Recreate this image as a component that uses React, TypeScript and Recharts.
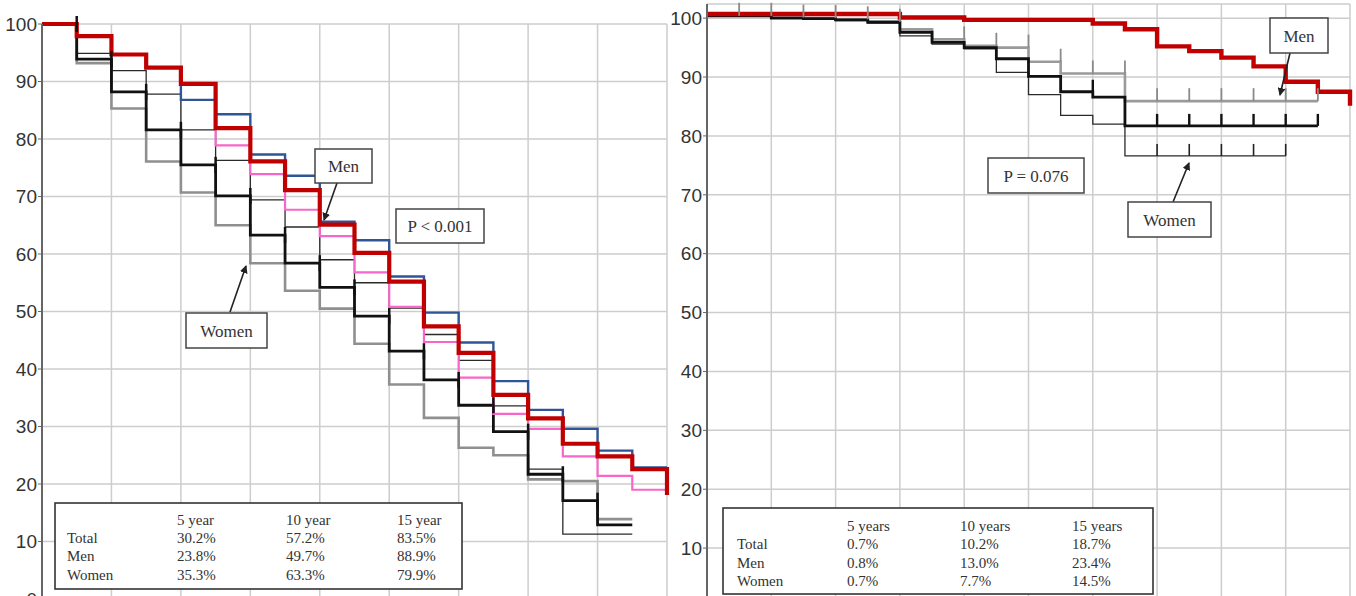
import React from 'react'
import { ComposedChart, Line, Scatter, XAxis, YAxis, CartesianGrid } from 'recharts'

// left panel: yearly steps, 0..18 years
const leftYears = [0, 1, 2, 3, 4, 5, 6, 7, 8, 9, 10, 11, 12, 13, 14, 15, 16, 17, 18]
const leftTotal = [100, 97.9, 94.7, 92.4, 89.6, 81.9, 76.1, 71.1, 65.1, 60.2, 55.2, 47.4, 42.8, 35.5, 31.4, 27.0, 24.8, 22.6, 18.1]
const leftMen = [100, 97.9, 94.7, 92.4, 86.8, 84.3, 77.3, 73.6, 65.6, 62.4, 56.1, 49.8, 44.6, 37.9, 32.9, 29.6, 25.8, 22.9, 22.9]
const leftWomen = [100, 97.9, 94.7, 92.4, 89.6, 78.9, 73.9, 67.7, 63.1, 56.8, 50.8, 44.7, 38.5, 32.2, 29.6, 24.8, 21.4, 19.0, 19.0]
const leftRefThin = [100, 94.9, 91.9, 87.8, 81.6, 76.3, 69.4, 64.7, 59.0, 55.0, 50.6, 46.0, 41.5, 33.6, 22.6, 11.3, 11.3, 11.3]
const leftRefThick = [100, 93.9, 88.2, 81.6, 75.5, 70.1, 63.3, 58.4, 54.2, 49.2, 43.1, 38.1, 33.7, 29.1, 21.7, 17.1, 12.9, 12.9]
const leftRefGray = [100, 93.2, 85.3, 76.1, 70.7, 65.0, 58.4, 53.6, 50.5, 44.4, 37.3, 31.5, 26.3, 25.0, 20.8, 20.5, 13.9, 13.9]
const leftCensor = [1, 2, 3, 4, 5, 6, 7, 8, 9, 10, 11, 12, 13, 14, 15, 16]

// right panel: 0..20 years
const rightYears = [0, 1, 2, 3, 4, 5, 6, 7, 8, 9, 10, 11, 12, 13, 14, 15, 16, 17, 18, 19, 20]
const rightTotal = [100.7, 100.7, 100.7, 100.7, 100.7, 100.7, 100.1, 100.1, 99.7, 99.7, 99.7, 99.7, 99.1, 98.1, 95.2, 94.4, 93.3, 91.8, 89.2, 87.5, 85.1]
const rightMen = [100.4, 100.4, 100.1, 100.0, 99.8, 99.4, 98.1, 96.4, 95.3, 95.0, 92.6, 90.6, 90.6, 85.9, 85.9, 85.9, 85.9, 85.9, 85.9, 85.9]
const rightAll = [100.4, 100.4, 100.0, 99.9, 99.7, 99.3, 97.6, 95.9, 95.0, 93.1, 90.1, 87.5, 86.6, 81.7, 81.7, 81.7, 81.7, 81.7, 81.7, 81.7]
const rightWomen = [100.4, 100.4, 100.0, 99.9, 99.6, 99.2, 97.0, 95.6, 94.8, 90.8, 87.0, 83.5, 82.0, 76.6, 76.6, 76.6, 76.6, 76.6, 76.6]
const rightMenCensor = [1, 2, 3, 4, 5, 6, 8, 9, 10, 11, 12, 13, 14, 15, 16, 17, 18, 19]
const rightAllCensor = [12, 14, 15, 16, 17, 18, 19]
const rightWomenCensor = [14, 15, 16, 17, 18]

const leftYTicks = [0, 10, 20, 30, 40, 50, 60, 70, 80, 90, 100]
const rightYTicks = [10, 20, 30, 40, 50, 60, 70, 80, 90, 100]
const leftXTicks = [0, 2, 4, 6, 8, 10, 12, 14, 16, 18]
const rightXTicks = [0, 2, 4, 6, 8, 10, 12, 14, 16, 18, 20]

const leftTable = [
  ['', '5 year', '10 year', '15 year'],
  ['Total', '30.2%', '57.2%', '83.5%'],
  ['Men', '23.8%', '49.7%', '88.9%'],
  ['Women', '35.3%', '63.3%', '79.9%'],
]
const rightTable = [
  ['', '5 years', '10 years', '15 years'],
  ['Total', '0.7%', '10.2%', '18.7%'],
  ['Men', '0.8%', '13.0%', '23.4%'],
  ['Women', '0.7%', '7.7%', '14.5%'],
]

const toRows = (years: number[], vals: number[]) => vals.map((v, i) => ({ t: years[i], v }))
const censorRows = (years: number[], vals: number[], marks: number[]) =>
  marks.map(m => ({ t: m, v: vals[years.indexOf(m) - 1] }))

const tickMark = (up: number, down: number, color: string, w: number) => (p: any) =>
  <line x1={p.cx} x2={p.cx} y1={p.cy - up} y2={p.cy + down} stroke={color} strokeWidth={w} />

const axisTick = { fill: '#333', fontSize: 19, fontFamily: 'Liberation Sans, Arial' }
const serif = 'Liberation Serif, Times New Roman'

const step = (data: any[], color: string, w: number) => (
  <Line data={data} dataKey="v" type="stepAfter" stroke={color} strokeWidth={w} dot={false}
    activeDot={false} isAnimationActive={false} />
)

const TextBox = ({ x, y, w, h, text }: any) => (
  <g>
    <rect x={x} y={y} width={w} height={h} fill="#fff" stroke="#444" strokeWidth={1.5} />
    <text x={x + w / 2} y={y + h / 2 + 6} textAnchor="middle" fontFamily={serif} fontSize={17} fill="#333">{text}</text>
  </g>
)

const Arrow = ({ x1, y1, x2, y2 }: any) => (
  <line x1={x1} y1={y1} x2={x2} y2={y2} stroke="#222" strokeWidth={1.6} markerEnd="url(#ah)" />
)

const Table = ({ x, y, w, h, rows, cols, rowY }: any) => (
  <g>
    <rect x={x} y={y} width={w} height={h} fill="#fff" stroke="#333" strokeWidth={1.6} />
    {rows.map((r: string[], i: number) => r.map((c, j) => (
      <text key={i + '-' + j} x={cols[j]} y={rowY[i]} fontFamily={serif} fontSize={15} fill="#333">{c}</text>
    )))}
  </g>
)

const App = () => {
  return (
    <div style={{ position: 'absolute', left: 0, top: 0, width: 1356, height: 596, overflow: 'hidden', background: '#fff' }}>
      <div style={{ position: 'absolute', left: 0, top: 0 }}>
        <ComposedChart width={680} height={620} margin={{ top: 24, right: 13, bottom: 21, left: 0 }}>
          <CartesianGrid stroke="#cdcdcd" strokeWidth={1.5} />
          <XAxis type="number" dataKey="t" domain={[0, 18]} ticks={leftXTicks} hide />
          <YAxis type="number" domain={[0, 100]} ticks={leftYTicks} width={42} tick={axisTick}
            axisLine={{ stroke: '#666', strokeWidth: 2 }} tickLine={{ stroke: '#666' }} tickSize={4} tickMargin={1} />
          {step(toRows(leftYears, leftRefGray), '#8f8f8f', 2.6)}
          {step(toRows(leftYears, leftRefThin), '#2a2a2a', 1.3)}
          {step(toRows(leftYears, leftRefThick), '#111', 2.8)}
          <Scatter data={censorRows(leftYears, leftRefThick, leftCensor)} dataKey="v" isAnimationActive={false}
            shape={tickMark(8, 8, '#111', 2.5)} />
          {step(toRows(leftYears, leftWomen), '#f766c8', 2.2)}
          {step(toRows(leftYears, leftMen), '#2f5597', 2.4)}
          {step(toRows(leftYears, leftTotal), '#c00000', 4.2)}
        </ComposedChart>
      </div>
      <div style={{ position: 'absolute', left: 668, top: 0 }}>
        <ComposedChart width={688} height={627} margin={{ top: 4, right: 6, bottom: 20, left: 0 }}>
          <CartesianGrid stroke="#cdcdcd" strokeWidth={1.5} />
          <XAxis type="number" dataKey="t" domain={[0, 20]} ticks={rightXTicks} hide />
          <YAxis type="number" domain={[0, 102.4]} ticks={rightYTicks} width={39} tick={axisTick}
            axisLine={{ stroke: '#666', strokeWidth: 2 }} tickLine={{ stroke: '#666' }} tickSize={4} tickMargin={1} />
          {step(toRows(rightYears, rightMen), '#9a9a9a', 2.6)}
          {step(toRows(rightYears, rightWomen), '#2a2a2a', 1.3)}
          {step(toRows(rightYears, rightAll), '#111', 2.8)}
          <Scatter data={censorRows(rightYears, rightMen, rightMenCensor)} dataKey="v" isAnimationActive={false}
            shape={tickMark(13, 0, '#8a8a8a', 1.8)} />
          <Scatter data={censorRows(rightYears, rightAll, rightAllCensor)} dataKey="v" isAnimationActive={false}
            shape={tickMark(12, 0, '#111', 2.4)} />
          <Scatter data={censorRows(rightYears, rightWomen, rightWomenCensor)} dataKey="v" isAnimationActive={false}
            shape={tickMark(12, 0, '#222', 1.6)} />
          {step(toRows(rightYears, rightTotal), '#c00000', 4.4)}
        </ComposedChart>
      </div>
      <svg width={1356} height={596} style={{ position: 'absolute', left: 0, top: 0, pointerEvents: 'none' }}>
        <defs>
          <marker id="ah" markerWidth="8" markerHeight="8" refX="7" refY="4" orient="auto" markerUnits="userSpaceOnUse">
            <path d="M0,0 L8,4 L0,8 z" fill="#222" />
          </marker>
        </defs>
        <Arrow x1={337} y1={183} x2={324} y2={220} />
        <TextBox x={315} y={149} w={57} h={34} text="Men" />
        <TextBox x={396} y={209} w={88} h={34} text="P < 0.001" />
        <Arrow x1={230} y1={312} x2={246} y2={266} />
        <TextBox x={186} y={313} w={81} h={35} text="Women" />
        <Table x={55} y={503} w={407} h={86} rows={leftTable} cols={[67, 177, 286, 397]} rowY={[525, 543, 561, 580]} />

        <Arrow x1={1290} y1={53} x2={1280} y2={95} />
        <TextBox x={1270} y={18} w={58} h={35} text="Men" />
        <TextBox x={988} y={158} w={96} h={35} text="P = 0.076" />
        <Arrow x1={1173} y1={202} x2={1189} y2={163} />
        <TextBox x={1128} y={202} w={83} h={35} text="Women" />
        <Table x={723} y={508} w={430} h={86} rows={rightTable} cols={[737, 847, 960, 1072]} rowY={[531, 549, 568, 586]} />
      </svg>
    </div>
  )
}

export default App
